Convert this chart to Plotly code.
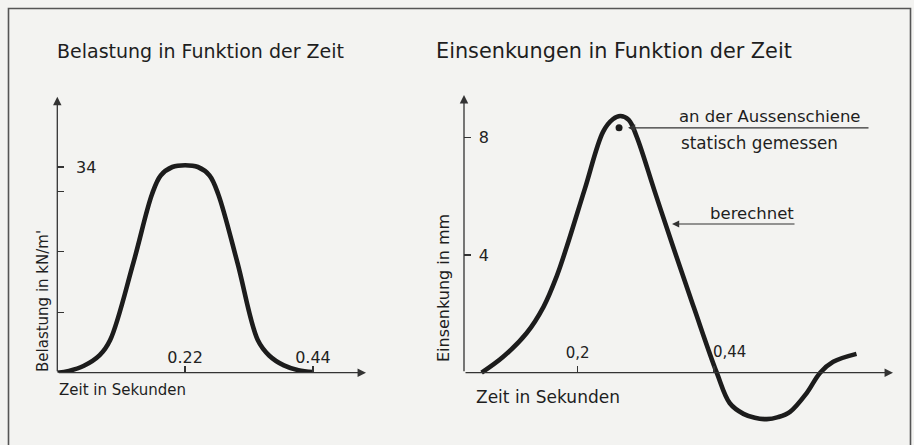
import plotly.graph_objects as go

W, H = 914, 445

# ---------------- data ----------------
# Left: Belastung (kN/m') in function of time (s)
load_t = [0.0, 0.02, 0.045, 0.073, 0.091, 0.131, 0.163, 0.178, 0.198, 0.22,
          0.242, 0.262, 0.277, 0.31, 0.345, 0.365, 0.39, 0.415, 0.44]
load_v = [0.0, 0.3, 1.1, 2.9, 5.4, 18.2, 29.5, 32.6, 34.0, 34.3,
          34.0, 32.6, 29.5, 18.2, 5.4, 2.8, 1.2, 0.4, 0.1]
load_ytick_vals = [10, 20, 30, 34]
load_ytick_text = ["", "", "", "34"]
load_xtick_vals = [0.22, 0.44]
load_xtick_text = ["0.22", "0.44"]

# Right: Einsenkung (mm) in function of time (s), computed
defl_t = [0.031, 0.069, 0.110, 0.140, 0.163, 0.181, 0.213, 0.245, 0.262, 0.275,
          0.29, 0.304, 0.336, 0.368, 0.405, 0.445, 0.468, 0.492, 0.512, 0.533,
          0.553, 0.574, 0.603, 0.627, 0.650, 0.691]
defl_v = [0.0, 0.54, 1.34, 2.24, 3.27, 4.29, 6.27, 8.2, 8.62, 8.73,
          8.6, 8.03, 6.15, 4.29, 2.2, 0.0, -1.04, -1.40, -1.53, -1.58,
          -1.51, -1.33, -0.70, 0.0, 0.37, 0.64]
# statically measured at outer rail
meas_t = [0.273]
meas_v = [8.33]
defl_ytick_vals = [4, 8]
defl_ytick_text = ["4", "8"]
defl_xtick_vals = [0.2, 0.44]
defl_xtick_text = ["0,2", ""]

# ---------------- layout helpers ----------------
def fx(px):
    return px / W

def fy(py):
    return 1 - py / H

INK = "#1c1c1c"
AX = "#333333"
FONT = "DejaVu Sans"

# left chart geometry (pixels)
L_x0, L_x1, L_y0, L_y1 = 57.3, 366.0, 372.7, 96.7
L_sx, L_sy = 581.0, 6.05
# right chart geometry
R_x0, R_x1, R_y0, R_y1, R_yb = 464.0, 893.0, 372.7, 95.0, 428.0
R_sx, R_sy = 568.0, 29.4

L_xmax = (L_x1 - L_x0) / L_sx
L_ymax = (L_y0 - L_y1) / L_sy
R_xmax = (R_x1 - R_x0) / R_sx
R_ymax = (R_y0 - R_y1) / R_sy
R_ymin = (R_y0 - R_yb) / R_sy

fig = go.Figure()
fig.add_trace(go.Scatter(x=load_t, y=load_v, mode="lines",
                         line=dict(color=INK, width=4.6, shape="spline", smoothing=1.0),
                         xaxis="x", yaxis="y", hoverinfo="skip"))
fig.add_trace(go.Scatter(x=defl_t, y=defl_v, mode="lines",
                         line=dict(color=INK, width=4.6, shape="spline", smoothing=1.0),
                         xaxis="x2", yaxis="y2", hoverinfo="skip"))
fig.add_trace(go.Scatter(x=meas_t, y=meas_v, mode="markers",
                         marker=dict(color=INK, size=7),
                         xaxis="x2", yaxis="y2", hoverinfo="skip"))

tickfont16 = dict(family=FONT, size=16, color="#222")
common_axis = dict(showgrid=False, zeroline=False, showline=False,
                   ticks="inside", ticklen=7, tickwidth=1.3, tickcolor=AX,
                   ticklabelposition="inside", fixedrange=True)

fig.update_layout(
    width=W, height=H,
    margin=dict(l=0, r=0, t=0, b=0),
    paper_bgcolor="#f3f3f1", plot_bgcolor="rgba(0,0,0,0)",
    showlegend=False,
    xaxis=dict(domain=[fx(L_x0), fx(L_x1)], range=[0, L_xmax], anchor="y",
               tickvals=load_xtick_vals, ticktext=load_xtick_text,
               tickfont=tickfont16, ticklabelstandoff=0, **common_axis),
    yaxis=dict(domain=[fy(L_y0), fy(L_y1)], range=[0, L_ymax], anchor="x",
               tickvals=load_ytick_vals, ticktext=load_ytick_text,
               tickfont=tickfont16, ticklabelstandoff=12, **common_axis),
    xaxis2=dict(domain=[fx(R_x0), fx(R_x1)], range=[0, R_xmax], anchor="free",
                position=fy(R_y0),
                tickvals=defl_xtick_vals, ticktext=defl_xtick_text,
                tickfont=dict(family=FONT, size=15, color="#222"),
                ticklabelstandoff=5, **common_axis),
    yaxis2=dict(domain=[fy(R_yb), fy(R_y1)], range=[R_ymin, R_ymax], anchor="x2",
                tickvals=defl_ytick_vals, ticktext=defl_ytick_text,
                tickfont=tickfont16, ticklabelstandoff=8, **common_axis),
)

ann = []
# axis arrows
def axis_arrow(xr, yr, x, y, ax, ay):
    return dict(xref=xr, yref=yr, axref=xr, ayref=yr, x=x, y=y, ax=ax, ay=ay,
                text="", showarrow=True, arrowhead=2, arrowsize=1.3,
                arrowwidth=1.3, arrowcolor=AX, standoff=0, startstandoff=0)

ann.append(axis_arrow("x", "y", L_xmax, 0, 0, 0))
ann.append(axis_arrow("x", "y", 0, L_ymax, 0, 0))
ann.append(axis_arrow("x2", "y2", R_xmax, 0, 0, 0))
ann.append(axis_arrow("x2", "y2", 0, R_ymax, 0, 0))

# pointer arrows to the curve
def pointer(x_tip, y_tip, x_tail):
    return dict(xref="x2", yref="y2", axref="x2", ayref="y2", x=x_tip, y=y_tip,
                ax=x_tail, ay=y_tip, text="", showarrow=True, arrowhead=2,
                arrowsize=1.2, arrowwidth=1.2, arrowcolor=AX, standoff=0)

ann.append(pointer((628 - R_x0) / R_sx, meas_v[0], (870 - R_x0) / R_sx))
ann.append(pointer((672 - R_x0) / R_sx, (R_y0 - 224) / R_sy, (796 - R_x0) / R_sx))

def label(text, x, y, size, xanchor="left", yanchor="middle", angle=0):
    return dict(xref="paper", yref="paper", x=x, y=y, text=text, showarrow=False,
                xanchor=xanchor, yanchor=yanchor, textangle=angle,
                font=dict(family=FONT, size=size, color="#1e1e1e"))

ann.append(label("Belastung in Funktion der Zeit", fx(55), fy(51), 19))
ann.append(label("Einsenkungen in Funktion der Zeit", fx(434), fy(51), 20.8))
ann.append(label("Zeit in Sekunden", fx(57), fy(390), 15))
ann.append(label("Zeit in Sekunden", fx(474), fy(397), 17))
ann.append(label("Belastung in kN/m'", fx(43), fy(374), 15, xanchor="center",
                 yanchor="bottom", angle=-90))
ann.append(label("Einsenkung in mm", fx(443), fy(364), 16, xanchor="center",
                 yanchor="bottom", angle=-90))
ann.append(label("an der Aussenschiene", fx(677), fy(117), 16.5))
ann.append(label("statisch gemessen", fx(679), fy(143), 16.8))
ann.append(label("berechnet", fx(708), fy(213), 16.5))
# 0,44 label on right axis (left-aligned at crossing)
ann.append(dict(xref="x2", yref="y2", x=0.44, y=(R_y0 - 352) / R_sy, text="0,44",
                showarrow=False, xanchor="left", yanchor="middle", xshift=-3,
                font=dict(family=FONT, size=15, color="#222")))

fig.update_layout(annotations=ann)

fig.add_shape(type="rect", xref="paper", yref="paper",
              x0=fx(8.5), x1=fx(910.5), y0=fy(470), y1=fy(8.5),
              line=dict(color="#555555", width=1.6))

fig.write_html("out.html",
               config={"displayModeBar": False, "staticPlot": True},
               post_script="document.body.style.margin='0px';document.body.style.background='#f3f3f1';")
